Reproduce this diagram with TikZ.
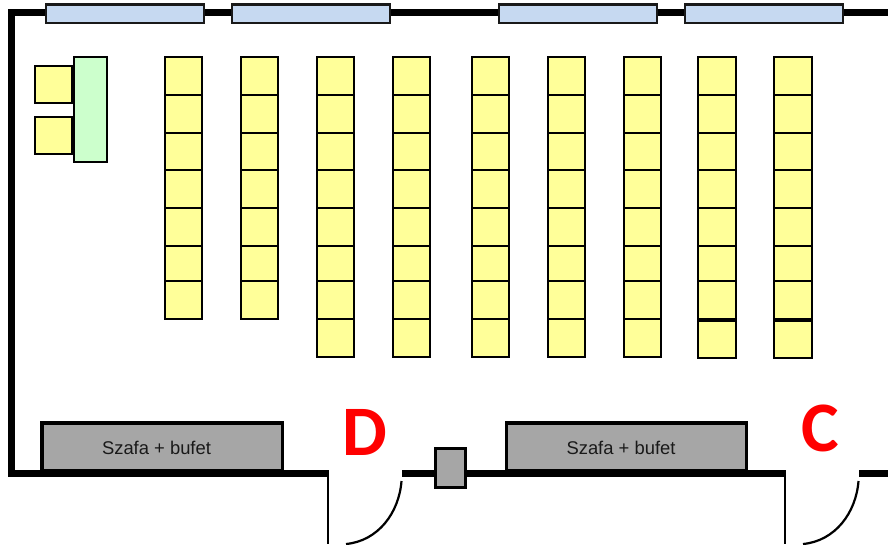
\documentclass[tikz,border=0pt]{standalone}
\usepackage{fontspec}
\setmainfont{Liberation Sans}
\newfontfamily\doorfont{Carlito}
\definecolor{seatY}{HTML}{FFFF99}
\definecolor{deskG}{HTML}{CCFFCC}
\definecolor{winB}{HTML}{C6D9F1}
\definecolor{cupG}{HTML}{A6A6A6}
\tikzset{
  wall/.style={line width=7.5pt,line cap=butt,line join=miter,black},
  seat/.style={draw=black,fill=seatY,line width=2pt},
  desk/.style={draw=black,fill=deskG,line width=2pt},
  pane/.style={draw=black!90,fill=winB,line width=2.2pt},
  cupboard/.style={draw=black,fill=cupG,line width=3.6pt},
  doorleaf/.style={draw=black,line width=2.2pt},
  doorletter/.style={text=red,font=\doorfont\bfseries\fontsize{71}{71}\selectfont,inner sep=0pt},
  cuplabel/.style={text=black!90,font=\fontsize{18.4}{20}\selectfont,inner sep=0pt}
}
\begin{document}
\begin{tikzpicture}[x=1pt,y=-1pt]
\useasboundingbox (0,0) rectangle (888,544);
% walls
\draw[wall] (888,12.5) -- (11.5,12.5) -- (11.5,473.5) -- (328.5,473.5);
\draw[wall] (402,473.5) -- (786,473.5);
\draw[wall] (859,473.5) -- (888,473.5);
% windows
\foreach \a/\b in {45.6/203.7,232/390.2,498.6/656.7,685/843.2}
  \draw[pane] (\a,4.5) rectangle (\b,23);
% teacher desk and chairs
\draw[seat] (34.6,66) rectangle (72.2,103.3);
\draw[seat] (34.6,116.5) rectangle (72.2,153.8);
\draw[desk] (73.6,57) rectangle (107.2,162.3);
% seats: 7-row columns
\foreach \x in {164.6,240.6}
  \foreach \t/\u in {57/95,95/132.5,132.5/170,170/208,208/246,246/281,281/319}
    \draw[seat] (\x,\t) rectangle (\x+37.4,\u);
% seats: 8-row columns
\foreach \x in {316.6,392.6,471.6,547.6,623.6}
  \foreach \t/\u in {57/95,95/132.5,132.5/170,170/208,208/246,246/281,281/319,319/356.7}
    \draw[seat] (\x,\t) rectangle (\x+37.4,\u);
% seats: last two columns
\foreach \x in {698,774}
  \foreach \t/\u in {57/95,95/132.5,132.5/170,170/208,208/246,246/281,281/319,320.5/358}
    \draw[seat] (\x,\t) rectangle (\x+37.7,\u);
% cupboards
\draw[cupboard] (41.8,422.8) rectangle (282.5,471);
\node[cuplabel] (s1) at (156.5,447.5) {Szafa + bufet};
\draw[cupboard] (506.5,422.8) rectangle (746.5,471);
\node[cuplabel] (s2) at (621,447.5) {Szafa + bufet};
\draw[cupboard] (435.5,448.5) rectangle (465.5,487.5);
% doors
\draw[doorleaf] (328.2,477) -- (328.2,544);
\draw[doorleaf] (401.5,481) .. controls (399,513) and (378,541) .. (346,544);
\draw[doorleaf] (785.2,477) -- (785.2,544);
\draw[doorleaf] (858.5,481) .. controls (856,513) and (835,541) .. (803,544);
\node[doorletter,anchor=base] (D) at (365,455) {D};
\node[doorletter,anchor=base] (C) at (820,451.5) {C};
\end{tikzpicture}
\end{document}
